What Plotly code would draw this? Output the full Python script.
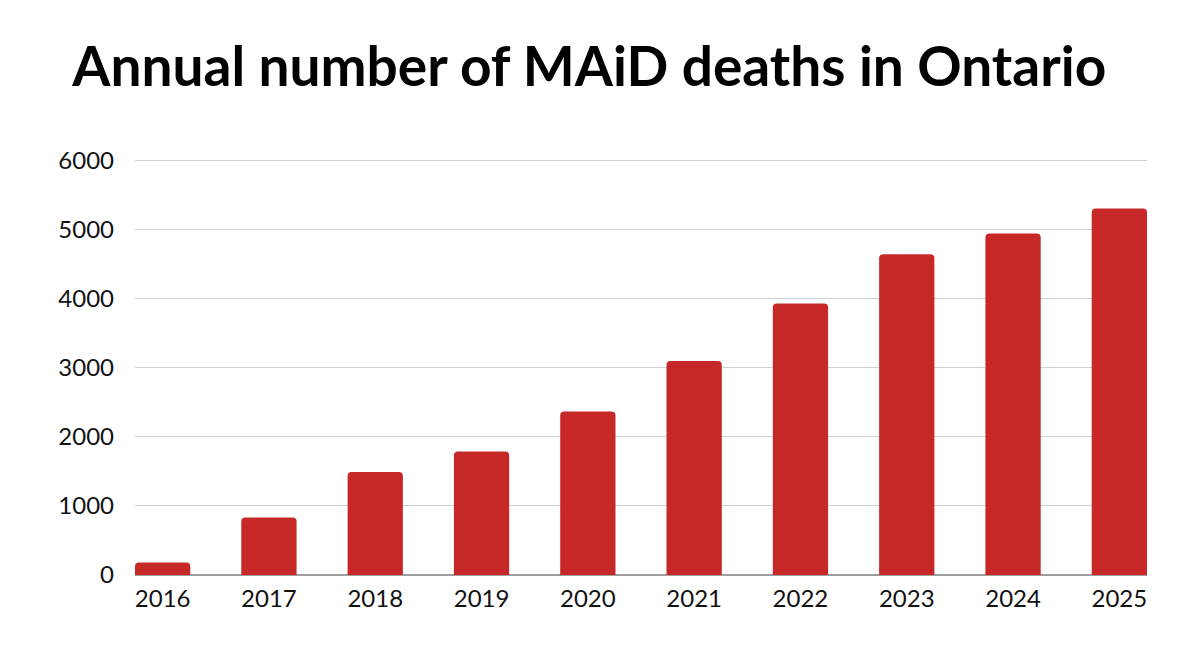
import plotly.graph_objects as go

years = ["2016", "2017", "2018", "2019", "2020", "2021", "2022", "2023", "2024", "2025"]
deaths = [180, 830, 1490, 1785, 2365, 3095, 3925, 4640, 4940, 5300]
y_ticks = [0, 1000, 2000, 3000, 4000, 5000, 6000]

fig = go.Figure(
    go.Bar(
        x=years,
        y=deaths,
        marker=dict(color="#C62828", line=dict(width=0)),
        width=0.52,
    )
)

fig.update_layout(
    width=1184,
    height=648,
    paper_bgcolor="white",
    plot_bgcolor="white",
    margin=dict(l=127, r=45, t=148, b=81),
    barcornerradius=4,
    showlegend=False,
    font=dict(family="Lato", color="#111111"),
    title=dict(
        text="<b>Annual number of MAiD deaths in Ontario</b>",
        x=0.491,
        xanchor="center",
        y=0.909,
        yanchor="middle",
        font=dict(family="Lato", size=55, color="#000000"),
    ),
)

fig.update_xaxes(
    type="category",
    range=[-0.26, 9.26],
    showgrid=False,
    showline=False,
    ticks="",
    ticklabelstandoff=7,
    tickfont=dict(size=24, color="#111111"),
)

fig.update_yaxes(
    range=[0, 6060],
    tickvals=y_ticks,
    ticktext=[str(v) for v in y_ticks],
    showgrid=True,
    gridcolor="#CFCFCF",
    gridwidth=1,
    zeroline=True,
    zerolinecolor="#9E9E9E",
    zerolinewidth=1.5,
    ticks="",
    ticklabelstandoff=20,
    tickfont=dict(size=24, color="#111111"),
)

fig.write_html("out.html")
